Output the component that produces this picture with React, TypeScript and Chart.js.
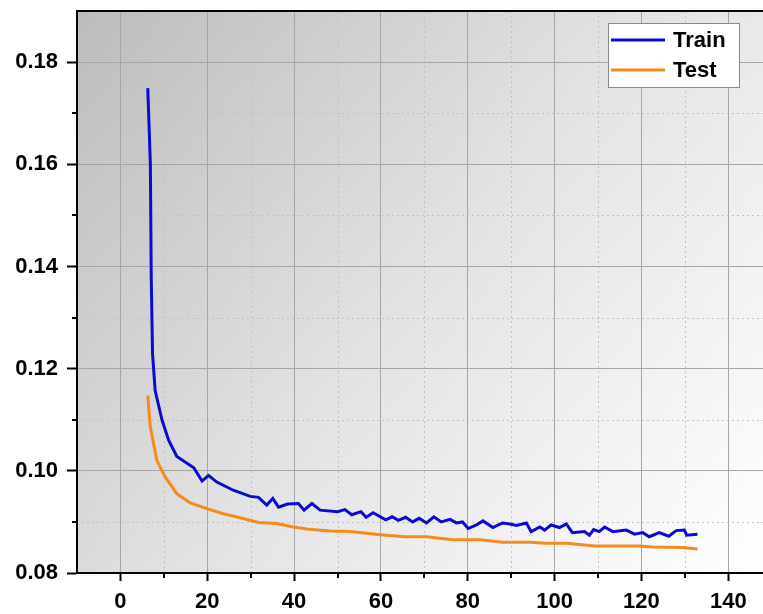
import React, { useEffect, useRef } from 'react';
import { Chart, registerables } from 'chart.js';
Chart.register(...registerables);

const trainEpochs = [6.3, 6.9, 7.1, 7.4, 8.0, 9.6, 11.1, 13.0, 16.9, 18.8, 20.3, 22.2, 26.0, 29.9, 31.8, 33.7, 35.1, 36.4, 38.5, 41.0, 42.3, 44.1, 46.0, 50.0, 51.7, 53.3, 55.4, 56.6, 58.2, 61.1, 62.6, 64.0, 65.7, 67.3, 68.8, 70.5, 72.2, 73.9, 75.9, 77.4, 78.8, 80.1, 82.0, 83.5, 85.8, 88.0, 89.7, 91.2, 93.5, 94.6, 96.6, 97.7, 99.2, 101.1, 102.7, 104.1, 106.9, 108.0, 109.0, 110.3, 111.5, 113.4, 116.5, 118.4, 120.3, 121.8, 124.1, 126.3, 128.0, 129.9, 130.4, 132.9];
const trainLoss = [0.1749, 0.1600, 0.1378, 0.1229, 0.1157, 0.1099, 0.1060, 0.1028, 0.1006, 0.0980, 0.0991, 0.0978, 0.0962, 0.0950, 0.0948, 0.0933, 0.0946, 0.0929, 0.0935, 0.0936, 0.0923, 0.0936, 0.0923, 0.0920, 0.0924, 0.0914, 0.0920, 0.0909, 0.0918, 0.0904, 0.0910, 0.0903, 0.0909, 0.0900, 0.0907, 0.0898, 0.0910, 0.0900, 0.0905, 0.0898, 0.0900, 0.0887, 0.0894, 0.0902, 0.0889, 0.0898, 0.0896, 0.0893, 0.0898, 0.0881, 0.0890, 0.0884, 0.0894, 0.0889, 0.0896, 0.0879, 0.0881, 0.0874, 0.0885, 0.0881, 0.0890, 0.0881, 0.0884, 0.0876, 0.0879, 0.0871, 0.0879, 0.0872, 0.0883, 0.0884, 0.0874, 0.0876];

const testEpochs = [6.3, 6.9, 8.4, 10.3, 13.0, 16.1, 19.9, 23.7, 27.6, 31.8, 36.0, 39.8, 42.9, 48.3, 52.9, 59.8, 65.5, 70.5, 76.6, 82.8, 88.1, 94.3, 98.1, 102.7, 105.7, 109.2, 113.4, 119.5, 122.6, 129.5, 132.9];
const testLoss = [0.1147, 0.1085, 0.1020, 0.0988, 0.0955, 0.0937, 0.0926, 0.0916, 0.0908, 0.0899, 0.0897, 0.0890, 0.0886, 0.0882, 0.0881, 0.0875, 0.0871, 0.0871, 0.0865, 0.0865, 0.0860, 0.0860, 0.0858, 0.0858, 0.0856, 0.0853, 0.0853, 0.0853, 0.0851, 0.0850, 0.0847];

const xMajorTicks = [0, 20, 40, 60, 80, 100, 120, 140];
const xMinorTicks = [10, 30, 50, 70, 90, 110, 130];
const yMajorTicks = [0.08, 0.1, 0.12, 0.14, 0.16, 0.18];
const yMinorTicks = [0.09, 0.11, 0.13, 0.15, 0.17];
const seriesNames = ['Train', 'Test'];
const seriesColors = ['#0a0ad2', '#f28c1e'];

const FONT = "'Liberation Sans', Arial, sans-serif";

const decor = {
  id: 'decor',
  beforeDraw(chart: any) {
    const { ctx, chartArea: a, scales } = chart;
    ctx.save();
    const g = ctx.createLinearGradient(a.left, a.top, a.right, a.bottom);
    g.addColorStop(0, '#bcbcbc');
    g.addColorStop(0.5, '#e3e3e3');
    g.addColorStop(1, '#ffffff');
    ctx.fillStyle = g;
    ctx.fillRect(a.left, a.top, a.right - a.left, a.bottom - a.top);
    ctx.strokeStyle = '#c2c2c2';
    ctx.lineWidth = 1;
    ctx.setLineDash([2, 3]);
    for (const v of xMinorTicks) {
      const px = Math.round(scales.x.getPixelForValue(v)) + 0.5;
      ctx.beginPath();
      ctx.moveTo(px, a.top);
      ctx.lineTo(px, a.bottom);
      ctx.stroke();
    }
    for (const v of yMinorTicks) {
      const py = Math.round(scales.y.getPixelForValue(v)) + 0.5;
      ctx.beginPath();
      ctx.moveTo(a.left, py);
      ctx.lineTo(a.right, py);
      ctx.stroke();
    }
    ctx.restore();
  },
  afterDraw(chart: any) {
    const { ctx, chartArea: a, scales } = chart;
    ctx.save();
    ctx.strokeStyle = '#000';
    ctx.lineWidth = 2;
    for (const v of xMinorTicks) {
      const px = Math.round(scales.x.getPixelForValue(v));
      ctx.beginPath();
      ctx.moveTo(px, a.bottom);
      ctx.lineTo(px, a.bottom + 5);
      ctx.stroke();
    }
    for (const v of yMinorTicks) {
      const py = Math.round(scales.y.getPixelForValue(v));
      ctx.beginPath();
      ctx.moveTo(a.left, py);
      ctx.lineTo(a.left - 5, py);
      ctx.stroke();
    }
    ctx.beginPath();
    ctx.moveTo(a.left - 1, a.top);
    ctx.lineTo(a.right, a.top);
    ctx.stroke();
    const lx = 608, ly = 23, lw = 131, lh = 64;
    ctx.fillStyle = '#ffffff';
    ctx.fillRect(lx, ly, lw, lh);
    ctx.strokeStyle = '#8a8a8a';
    ctx.lineWidth = 1;
    ctx.strokeRect(lx + 0.5, ly + 0.5, lw, lh);
    ctx.font = `bold 22px ${FONT}`;
    ctx.textBaseline = 'middle';
    ctx.textAlign = 'left';
    seriesNames.forEach((name, i) => {
      const y = ly + 17 + i * 30;
      ctx.strokeStyle = seriesColors[i];
      ctx.lineWidth = 3;
      ctx.beginPath();
      ctx.moveTo(lx + 3, y);
      ctx.lineTo(lx + 57, y);
      ctx.stroke();
      ctx.fillStyle = '#000';
      ctx.fillText(name, lx + 65, y + 1);
    });
    ctx.restore();
  },
};

export default function App() {
  const ref = useRef<HTMLCanvasElement | null>(null);
  useEffect(() => {
    if (!ref.current) return;
    const chart = new Chart(ref.current, {
      type: 'line',
      data: {
        datasets: [
          {
            label: seriesNames[0],
            data: trainEpochs.map((x, i) => ({ x, y: trainLoss[i] })),
            borderColor: seriesColors[0],
            borderWidth: 3,
            pointRadius: 0,
            tension: 0,
            fill: false,
          },
          {
            label: seriesNames[1],
            data: testEpochs.map((x, i) => ({ x, y: testLoss[i] })),
            borderColor: seriesColors[1],
            borderWidth: 3,
            pointRadius: 0,
            tension: 0,
            fill: false,
          },
        ],
      },
      options: {
        animation: false,
        responsive: false,
        maintainAspectRatio: false,
        layout: { padding: { top: 11, right: 0, left: 0, bottom: 0 } },
        plugins: { legend: { display: false }, tooltip: { enabled: false } },
        scales: {
          x: {
            type: 'linear',
            min: -10,
            max: 148,
            afterBuildTicks: (s: any) => {
              s.ticks = xMajorTicks.map((v) => ({ value: v }));
            },
            afterFit: (s: any) => {
              s.height = 41;
              s.paddingLeft = 0;
              s.paddingRight = 0;
            },
            grid: { color: '#a6a6a6', lineWidth: 1, tickColor: '#000', tickWidth: 2, tickLength: 8 },
            border: { display: true, color: '#000', width: 2 },
            ticks: {
              color: '#000',
              padding: 8,
              maxRotation: 0,
              autoSkip: false,
              font: { family: FONT, size: 22, weight: 'bold' },
              callback: (v: any) => String(v),
            },
          },
          y: {
            type: 'linear',
            min: 0.08,
            max: 0.19,
            afterBuildTicks: (s: any) => {
              s.ticks = yMajorTicks.map((v) => ({ value: v }));
            },
            afterFit: (s: any) => {
              s.width = 77;
              s.paddingTop = 0;
              s.paddingBottom = 0;
            },
            grid: { color: '#a6a6a6', lineWidth: 1, tickColor: '#000', tickWidth: 2, tickLength: 10 },
            border: { display: true, color: '#000', width: 2 },
            ticks: {
              color: '#000',
              padding: 9,
              autoSkip: false,
              font: { family: FONT, size: 22, weight: 'bold' },
              callback: (v: any) => Number(v).toFixed(2),
            },
          },
        },
      },
      plugins: [decor],
    });
    return () => chart.destroy();
  }, []);
  return (
    <div style={{ position: 'absolute', left: 0, top: 0, width: 763, height: 614 }}>
      <canvas ref={ref} width={763} height={614} style={{ display: 'block' }} />
    </div>
  );
}
